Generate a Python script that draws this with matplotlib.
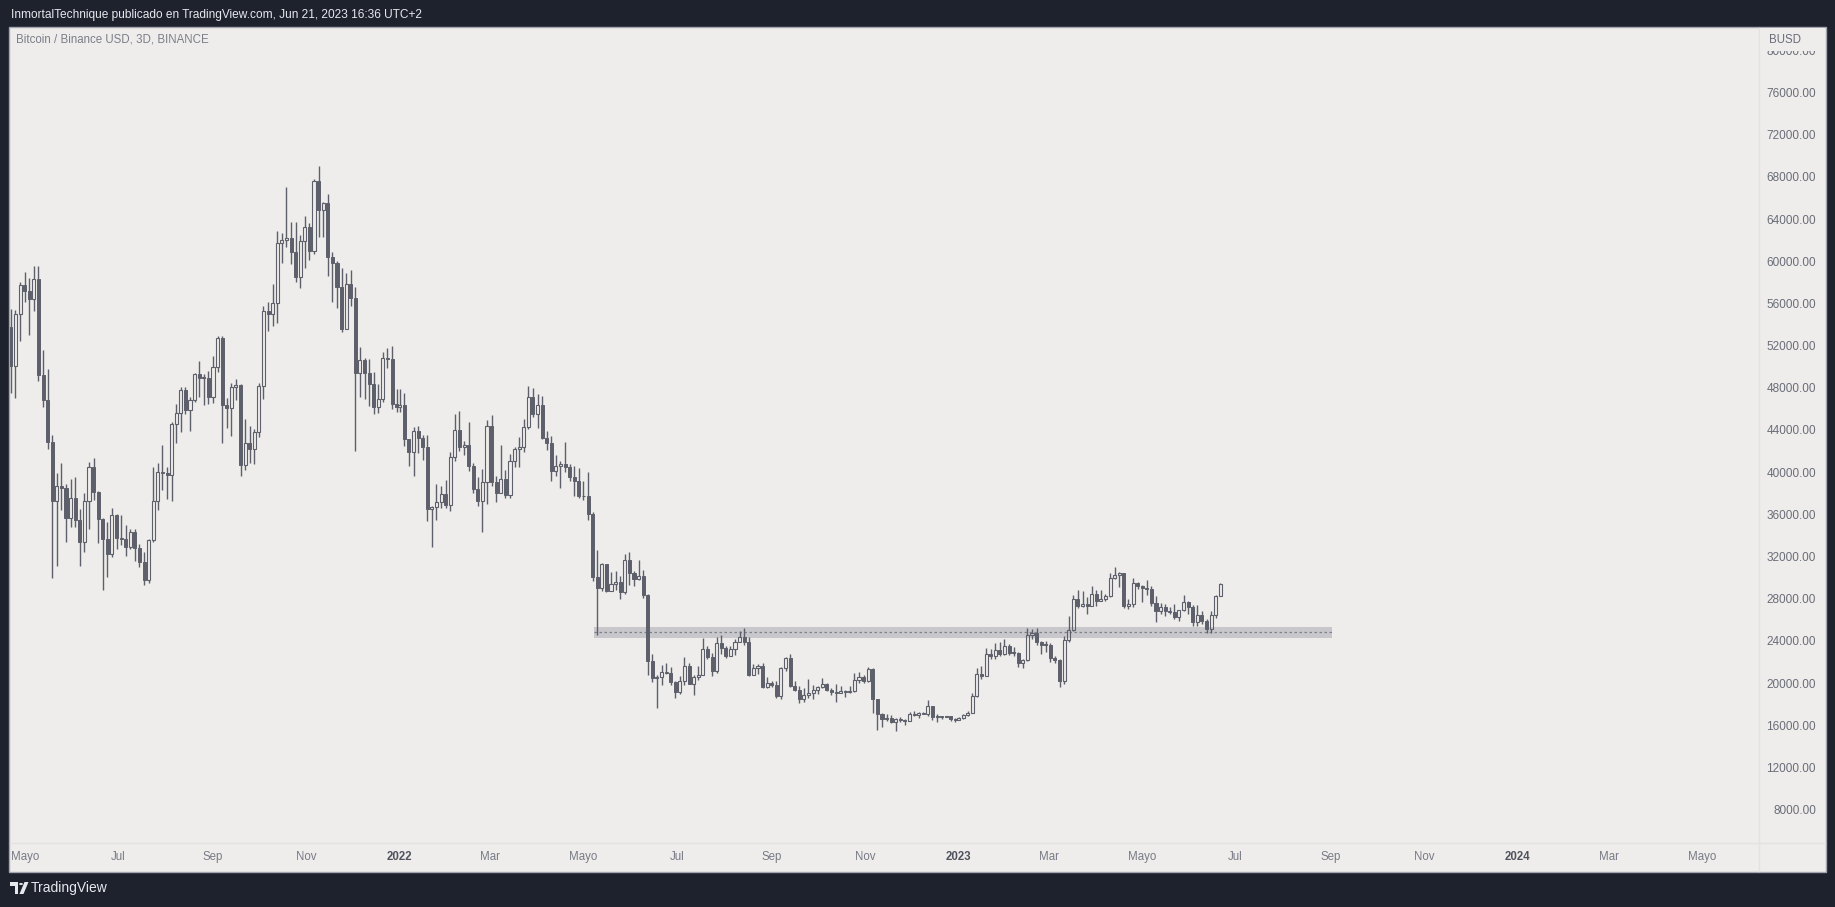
import numpy as np
import pandas as pd
import matplotlib
matplotlib.use('Agg')
import matplotlib.pyplot as plt
import matplotlib.dates as mdates
from matplotlib.patches import Rectangle, Polygon, Circle

plt.rcParams['font.family'] = ['Liberation Sans', 'DejaVu Sans']

# ---------- data: BTC/BUSD 3D candles (k USD) ----------
# 3D bars restart on Jan 1 each year
dates = (list(pd.date_range('2021-04-22', '2021-12-31', freq='3D'))
         + list(pd.date_range('2022-01-01', '2022-12-31', freq='3D'))
         + list(pd.date_range('2023-01-01', '2023-06-21', freq='3D')))

opens = [
    # 2021
    53.8, 50.1, 55.0, 57.7, 57.2, 56.4, 58.3, 49.2, 46.8, 42.9,
    37.3, 38.7, 38.5, 35.7, 37.6, 35.5, 33.4, 37.3, 40.5, 38.1,
    35.6, 33.7, 32.2, 35.9, 33.8, 33.7, 32.9, 34.3, 32.8, 31.5,
    29.8, 33.6, 37.3, 40.0, 39.9, 39.7, 44.6, 45.6, 47.8, 45.9,
    46.8, 49.3, 48.9, 48.9, 47.1, 50.0, 52.7, 46.4, 46.1, 48.1,
    48.3, 40.7, 42.8, 42.2, 43.8, 48.2, 55.3, 55.0, 56.0, 61.7,
    62.0, 62.2, 60.9, 58.5, 61.9, 63.2, 61.0, 67.6, 64.9, 65.5,
    60.4, 59.8, 57.6, 53.6, 57.8, 56.5, 49.4, 50.6, 49.4, 48.4,
    46.2, 46.9, 50.8, 50.7, 46.5,
    # 2022
    46.2, 46.4, 43.1, 41.9, 43.9, 43.2, 42.4, 36.5, 36.7, 37.2,
    37.9, 36.9, 41.4, 44.0, 42.4, 42.6, 40.6, 38.4, 37.3, 39.1,
    44.4, 39.1, 38.0, 39.4, 37.8, 41.1, 42.2, 42.4, 44.3, 47.1,
    45.5, 46.4, 43.2, 42.8, 40.1, 40.6, 40.8, 40.5, 39.5, 39.2,
    37.7, 37.7, 36.0, 30.1, 29.0, 31.3, 28.7, 29.4, 29.6, 28.6,
    31.7, 30.4, 29.9, 30.2, 28.4, 22.1, 20.5, 20.6, 21.1, 21.0,
    20.1, 19.2, 20.2, 21.6, 19.9, 20.6, 20.8, 23.2, 22.5, 21.2,
    23.8, 23.3, 22.6, 23.2, 23.9, 24.4, 23.9, 20.8, 21.4, 21.6,
    19.6, 20.0, 19.8, 18.8, 21.4, 22.4, 19.7, 19.4, 18.5, 18.9,
    19.1, 19.4, 19.6, 19.9, 19.4, 19.2, 19.1, 19.3, 19.2, 19.3,
    20.3, 20.6, 20.2, 21.3, 18.5, 17.1, 16.6, 16.7, 16.3, 16.6,
    16.5, 16.4, 17.1, 17.0, 17.2, 17.1, 17.8, 16.8, 16.9, 16.8,
    16.9, 16.6,
    # 2023
    16.5, 16.7, 17.0, 17.2, 18.8, 20.9, 20.7, 22.8, 22.6, 23.1,
    22.8, 23.5, 22.9, 22.9, 21.9, 22.2, 24.6, 24.8, 23.9, 23.6,
    23.6, 22.4, 22.2, 20.2, 24.1, 25.0, 28.0, 27.3, 27.5, 27.3,
    28.5, 27.8, 28.0, 28.3, 30.0, 30.3, 30.4, 27.3, 27.5, 29.5,
    29.2, 29.0, 28.9, 27.6, 26.8, 27.2, 26.8, 26.7, 26.3, 26.9,
    27.7, 27.2, 25.8, 26.5, 25.9, 25.1, 26.5, 28.3,
]
highs = [
    55.5, 55.4, 58.0, 59.0, 58.4, 59.5, 59.5, 51.6, 49.8, 43.5,
    39.9, 40.9, 38.9, 39.4, 39.5, 36.5, 38.0, 41.0, 41.3, 38.2,
    35.7, 35.3, 36.6, 36.0, 35.9, 35.0, 34.6, 34.6, 33.2, 32.4,
    33.7, 40.5, 40.9, 42.6, 40.5, 44.8, 46.5, 48.1, 48.1, 47.1,
    49.4, 50.5, 49.3, 49.6, 51.0, 52.9, 52.9, 47.0, 48.5, 48.8,
    48.4, 45.0, 44.4, 44.1, 48.5, 55.8, 56.1, 57.8, 62.9, 62.7,
    67.0, 63.7, 63.7, 62.5, 64.3, 63.6, 67.8, 69.0, 65.6, 66.4,
    60.9, 60.0, 59.4, 58.9, 59.2, 57.6, 51.9, 50.8, 50.7, 49.5,
    48.4, 51.4, 51.8, 52.0, 47.9,
    47.9, 47.5, 43.1, 44.3, 44.4, 43.5, 43.5, 36.8, 38.9, 38.7,
    39.3, 41.9, 45.5, 45.8, 43.0, 44.8, 40.9, 39.5, 40.3, 44.9,
    45.4, 39.6, 42.6, 40.2, 41.7, 42.4, 43.3, 45.0, 48.2, 48.0,
    47.4, 47.2, 43.9, 43.4, 41.6, 41.1, 42.9, 40.8, 40.6, 40.4,
    39.2, 40.0, 36.2, 32.6, 31.4, 31.3, 30.5, 30.6, 30.2, 32.2,
    32.4, 30.6, 31.7, 30.7, 28.5, 22.8, 20.8, 21.7, 21.9, 21.5,
    20.2, 20.7, 22.5, 21.9, 20.8, 21.6, 24.3, 23.5, 22.9, 24.4,
    24.6, 23.5, 23.5, 24.2, 24.9, 25.2, 24.4, 21.8, 21.8, 21.9,
    20.6, 20.2, 20.2, 21.5, 22.5, 22.8, 20.2, 19.7, 19.5, 20.4,
    19.8, 19.7, 20.5, 20.0, 19.5, 19.9, 19.7, 19.4, 19.7, 21.0,
    21.1, 20.8, 21.5, 21.4, 18.5, 17.2, 17.1, 17.0, 16.7, 16.8,
    16.6, 17.3, 17.4, 17.3, 17.3, 18.4, 17.8, 17.1, 16.9, 16.9,
    16.9, 16.7,
    16.8, 17.1, 17.4, 19.1, 21.4, 21.6, 23.3, 23.2, 23.8, 23.9,
    24.2, 23.7, 23.4, 23.0, 22.3, 25.2, 25.1, 25.2, 24.0, 24.0,
    23.8, 22.6, 22.3, 24.5, 26.4, 28.4, 28.8, 28.7, 28.2, 29.2,
    28.8, 28.8, 28.5, 30.4, 31.0, 30.5, 30.4, 28.0, 30.0, 29.6,
    29.3, 29.8, 29.2, 28.3, 27.6, 27.5, 27.2, 27.5, 26.9, 28.4,
    27.8, 27.4, 27.4, 26.8, 26.1, 26.8, 28.4, 29.5,
]
lows = [
    47.5, 47.0, 52.4, 56.1, 53.0, 55.3, 48.6, 46.2, 42.2, 30.0,
    31.1, 36.4, 33.4, 34.8, 34.8, 31.1, 32.4, 34.6, 37.4, 33.3,
    28.8, 30.1, 32.0, 32.7, 33.1, 32.1, 32.7, 31.6, 31.0, 29.3,
    29.5, 33.4, 36.4, 38.3, 37.5, 37.3, 42.8, 43.8, 45.5, 43.9,
    46.7, 47.1, 46.4, 46.5, 46.6, 49.5, 42.8, 44.2, 43.4, 46.8,
    39.6, 40.2, 40.9, 40.8, 43.3, 46.9, 53.4, 53.9, 54.1, 59.8,
    61.3, 59.7, 58.0, 57.5, 59.4, 60.1, 60.7, 62.3, 62.3, 58.6,
    56.1, 55.6, 53.3, 53.6, 55.8, 42.0, 47.1, 46.9, 46.3, 45.5,
    45.6, 46.7, 49.9, 46.0, 45.7,
    45.7, 42.5, 40.6, 39.6, 41.8, 41.2, 35.4, 32.9, 35.5, 36.6,
    36.6, 36.3, 41.1, 42.0, 41.6, 40.1, 38.0, 36.8, 34.3, 37.0,
    38.7, 37.2, 38.0, 37.6, 37.6, 40.5, 40.5, 41.9, 44.1, 45.2,
    44.2, 43.1, 42.1, 39.2, 39.6, 38.5, 40.0, 39.2, 37.7, 37.6,
    37.4, 35.5, 29.7, 24.6, 28.7, 28.6, 28.7, 28.8, 28.0, 28.5,
    29.3, 29.2, 29.8, 28.1, 20.8, 20.1, 17.6, 19.8, 20.9, 19.8,
    18.6, 19.0, 19.8, 19.9, 18.9, 20.3, 20.8, 22.3, 20.7, 21.0,
    22.8, 22.4, 22.6, 22.7, 23.9, 23.6, 20.7, 20.8, 20.9, 19.5,
    19.5, 19.6, 18.6, 18.5, 21.2, 19.6, 19.3, 18.1, 18.2, 18.6,
    18.5, 19.0, 19.5, 19.3, 18.9, 18.2, 19.1, 18.7, 19.1, 19.2,
    20.0, 20.0, 20.1, 17.2, 15.6, 15.8, 16.4, 16.2, 15.5, 16.3,
    16.0, 16.4, 16.9, 16.7, 17.1, 16.9, 16.5, 16.3, 16.6, 16.8,
    16.4, 16.3,
    16.5, 16.6, 16.9, 17.2, 18.7, 20.4, 20.7, 22.3, 22.3, 22.6,
    22.7, 22.7, 22.6, 21.5, 21.4, 22.1, 24.2, 23.6, 22.8, 23.0,
    22.0, 21.9, 19.6, 19.9, 23.9, 24.9, 27.1, 27.2, 26.6, 27.3,
    27.3, 27.8, 27.8, 28.2, 29.9, 29.1, 27.1, 27.0, 27.2, 28.9,
    27.7, 28.4, 27.3, 25.8, 26.6, 26.4, 26.6, 26.1, 25.9, 26.8,
    26.6, 25.4, 25.4, 25.6, 24.8, 24.8, 26.2, 28.3,
]
closes = [
    50.1, 55.0, 57.7, 57.2, 56.4, 58.3, 49.2, 46.8, 42.9, 37.3,
    38.7, 38.5, 35.7, 37.6, 35.5, 33.4, 37.3, 40.5, 38.1, 35.6,
    33.7, 32.2, 35.9, 33.8, 33.7, 32.9, 34.3, 32.8, 31.5, 29.8,
    33.6, 37.3, 40.0, 39.9, 39.7, 44.6, 45.6, 47.8, 45.9, 46.8,
    49.3, 48.9, 48.9, 47.1, 50.0, 52.7, 46.4, 46.1, 48.1, 48.3,
    40.7, 42.8, 42.2, 43.8, 48.2, 55.3, 55.0, 56.0, 61.7, 62.0,
    62.2, 60.9, 58.5, 61.9, 63.2, 61.0, 67.6, 64.9, 65.5, 60.4,
    59.8, 57.6, 53.6, 57.8, 56.5, 49.4, 50.6, 49.4, 48.4, 46.2,
    46.9, 50.8, 50.7, 46.5, 46.2,
    46.4, 43.1, 41.9, 43.9, 43.2, 42.4, 36.5, 36.7, 37.2, 37.9,
    36.9, 41.4, 44.0, 42.4, 42.6, 40.6, 38.4, 37.3, 39.1, 44.4,
    39.1, 38.0, 39.4, 37.8, 41.1, 42.2, 42.4, 44.3, 47.1, 45.5,
    46.4, 43.2, 42.8, 40.1, 40.6, 40.8, 40.5, 39.5, 39.2, 37.7,
    37.7, 36.0, 30.1, 29.0, 31.3, 28.7, 29.4, 29.6, 28.6, 31.7,
    30.4, 29.9, 30.2, 28.4, 22.1, 20.5, 20.6, 21.1, 21.0, 20.1,
    19.2, 20.2, 21.6, 19.9, 20.6, 20.8, 23.2, 22.5, 21.2, 23.8,
    23.3, 22.6, 23.2, 23.9, 24.4, 23.9, 20.8, 21.4, 21.6, 19.6,
    20.0, 19.8, 18.8, 21.4, 22.4, 19.7, 19.4, 18.5, 18.9, 19.1,
    19.4, 19.6, 19.9, 19.4, 19.2, 19.1, 19.3, 19.2, 19.3, 20.3,
    20.6, 20.2, 21.3, 18.5, 17.1, 16.6, 16.7, 16.3, 16.6, 16.5,
    16.4, 17.1, 17.0, 17.2, 17.1, 17.8, 16.8, 16.9, 16.8, 16.9,
    16.6, 16.5,
    16.7, 17.0, 17.2, 18.8, 20.9, 20.7, 22.8, 22.6, 23.1, 22.8,
    23.5, 22.9, 22.9, 21.9, 22.2, 24.6, 24.8, 23.9, 23.6, 23.6,
    22.4, 22.2, 20.2, 24.1, 25.0, 28.0, 27.3, 27.5, 27.3, 28.5,
    27.8, 28.0, 28.3, 30.0, 30.3, 30.4, 27.3, 27.5, 29.5, 29.2,
    29.0, 28.9, 27.6, 26.8, 27.2, 26.8, 26.7, 26.3, 26.9, 27.7,
    27.2, 25.8, 26.5, 25.9, 25.1, 26.5, 28.3, 29.4,
]

# support zone drawn on the chart
zone_start, zone_end = '2022-05-08', '2023-09-02'
zone_low, zone_high, zone_mid = 24300, 25350, 24820

price_ticks = list(range(8000, 80001, 4000))
month_ticks = ['2021-05-01', '2021-07-01', '2021-09-01', '2021-11-01', '2022-01-01',
               '2022-03-01', '2022-05-01', '2022-07-01', '2022-09-01', '2022-11-01',
               '2023-01-01', '2023-03-01', '2023-05-01', '2023-07-01', '2023-09-01',
               '2023-11-01', '2024-01-01', '2024-03-01', '2024-05-01']
month_labels = ['Mayo', 'Jul', 'Sep', 'Nov', '2022', 'Mar', 'Mayo', 'Jul', 'Sep', 'Nov',
                '2023', 'Mar', 'Mayo', 'Jul', 'Sep', 'Nov', '2024', 'Mar', 'Mayo']

# ---------- style ----------
W, H = 1835, 907
DARK = '#1e222d'
BG = '#eeedeb'
CANDLE = '#5d606b'
TXT = '#6a6d78'


def fx(x):
    return x / W


def fy(y):
    return 1 - y / H


fig = plt.figure(figsize=(W / 100, H / 100), dpi=100, facecolor=DARK)

# light chart panel
fig.add_artist(Rectangle((fx(9), fy(872)), fx(1826) - fx(9), fy(27) - fy(872),
                         transform=fig.transFigure, facecolor=BG,
                         edgecolor='#a3a6ae', lw=1.0, zorder=-2))
# price / time scale separators (very faint)
fig.add_artist(plt.Line2D([fx(1759), fx(1759)], [fy(871), fy(28)],
                          transform=fig.transFigure, color='#e3e2e0', lw=1, zorder=-1))
fig.add_artist(plt.Line2D([fx(10), fx(1825)], [fy(843), fy(843)],
                          transform=fig.transFigure, color='#e3e2e0', lw=1, zorder=-1))

ax = fig.add_axes([fx(9.5), fy(843), fx(1757) - fx(9.5), fy(27) - fy(843)])
ax.set_facecolor('none')
for s in ax.spines.values():
    s.set_visible(False)

x = mdates.date2num(pd.to_datetime(dates))
o = np.array(opens) * 1000
h = np.array(highs) * 1000
l = np.array(lows) * 1000
c = np.array(closes) * 1000
top = np.maximum(o, c)
bot = np.minimum(o, c)
up = c >= o

# zone
z0 = mdates.date2num(pd.Timestamp(zone_start))
z1 = mdates.date2num(pd.Timestamp(zone_end))
ax.add_patch(Rectangle((z0, zone_low), z1 - z0, zone_high - zone_low,
                       facecolor='#c8c7cc', edgecolor='none', zorder=1))
ax.hlines(zone_mid, z0, z1, colors='#7f8089', linestyles=(0, (2, 2)), lw=0.9, zorder=1.5)

# candles
ax.vlines(x, top, h, color=CANDLE, lw=1.0, zorder=3)
ax.vlines(x, l, bot, color=CANDLE, lw=1.0, zorder=3)
ax.bar(x[~up], (o - c)[~up], bottom=c[~up], width=2.0,
       facecolor=CANDLE, edgecolor=CANDLE, lw=0.7, zorder=4)
ax.bar(x[up], np.maximum(c - o, 80)[up], bottom=o[up], width=2.0,
       facecolor='none', edgecolor=CANDLE, lw=0.8, zorder=4)

ax.set_xlim(mdates.date2num(pd.Timestamp('2021-04-21 02:00')),
            mdates.date2num(pd.Timestamp('2024-06-05 14:00')))
ax.set_ylim(4850, 82200)

# price scale on the right
ax.yaxis.tick_right()
ax.set_yticks(price_ticks)
ax.set_yticklabels([f'{v:.2f}' for v in price_ticks])
ax.tick_params(axis='y', length=0, pad=42.5, labelsize=8.5, labelcolor=TXT)
for t in ax.get_yticklabels():
    t.set_ha('right')

# time scale
ax.set_xticks(mdates.date2num(pd.to_datetime(month_ticks)))
ax.set_xticklabels(month_labels)
ax.tick_params(axis='x', length=0, pad=6, labelsize=8.3, labelcolor='#787b86')
for t in ax.get_xticklabels():
    if t.get_text().isdigit():
        t.set_fontweight('bold')
        t.set_color('#50535e')

# currency header covers the top of the price scale
fig.add_artist(Rectangle((fx(1760), fy(50.5)), fx(1825) - fx(1760), fy(28) - fy(50.5),
                         transform=fig.transFigure, facecolor=BG, edgecolor='none', zorder=5))
fig.text(fx(1769), fy(40), 'BUSD', color=TXT, fontsize=8.3, va='center', ha='left', zorder=6)

# titles
fig.text(fx(11), fy(15), 'InmortalTechnique publicado en TradingView.com, Jun 21, 2023 16:36 UTC+2',
         color='#e6e8ee', fontsize=8.6, va='center', ha='left')
fig.text(fx(16), fy(40), 'Bitcoin / Binance USD, 3D, BINANCE',
         color='#7b7e89', fontsize=8.3, va='center', ha='left')

# footer logo
LOGO = '#e6e8ee'
fig.add_artist(Polygon([(fx(10), fy(882)), (fx(18), fy(882)), (fx(18), fy(894)),
                        (fx(14.5), fy(894)), (fx(14.5), fy(886)), (fx(10), fy(886))],
                       closed=True, transform=fig.transFigure, facecolor=LOGO, edgecolor='none'))
fig.add_artist(Circle((fx(21), fy(884)), 2.0 / W, transform=fig.transFigure,
                      facecolor=LOGO, edgecolor='none'))
fig.add_artist(Polygon([(fx(19.5), fy(894)), (fx(24.5), fy(882)), (fx(28.5), fy(882)),
                        (fx(23.5), fy(894))],
                       closed=True, transform=fig.transFigure, facecolor=LOGO, edgecolor='none'))
fig.text(fx(31), fy(888), 'TradingView', color=LOGO, fontsize=10, va='center', ha='left')

fig.savefig('out.png', dpi=100, facecolor=fig.get_facecolor())
